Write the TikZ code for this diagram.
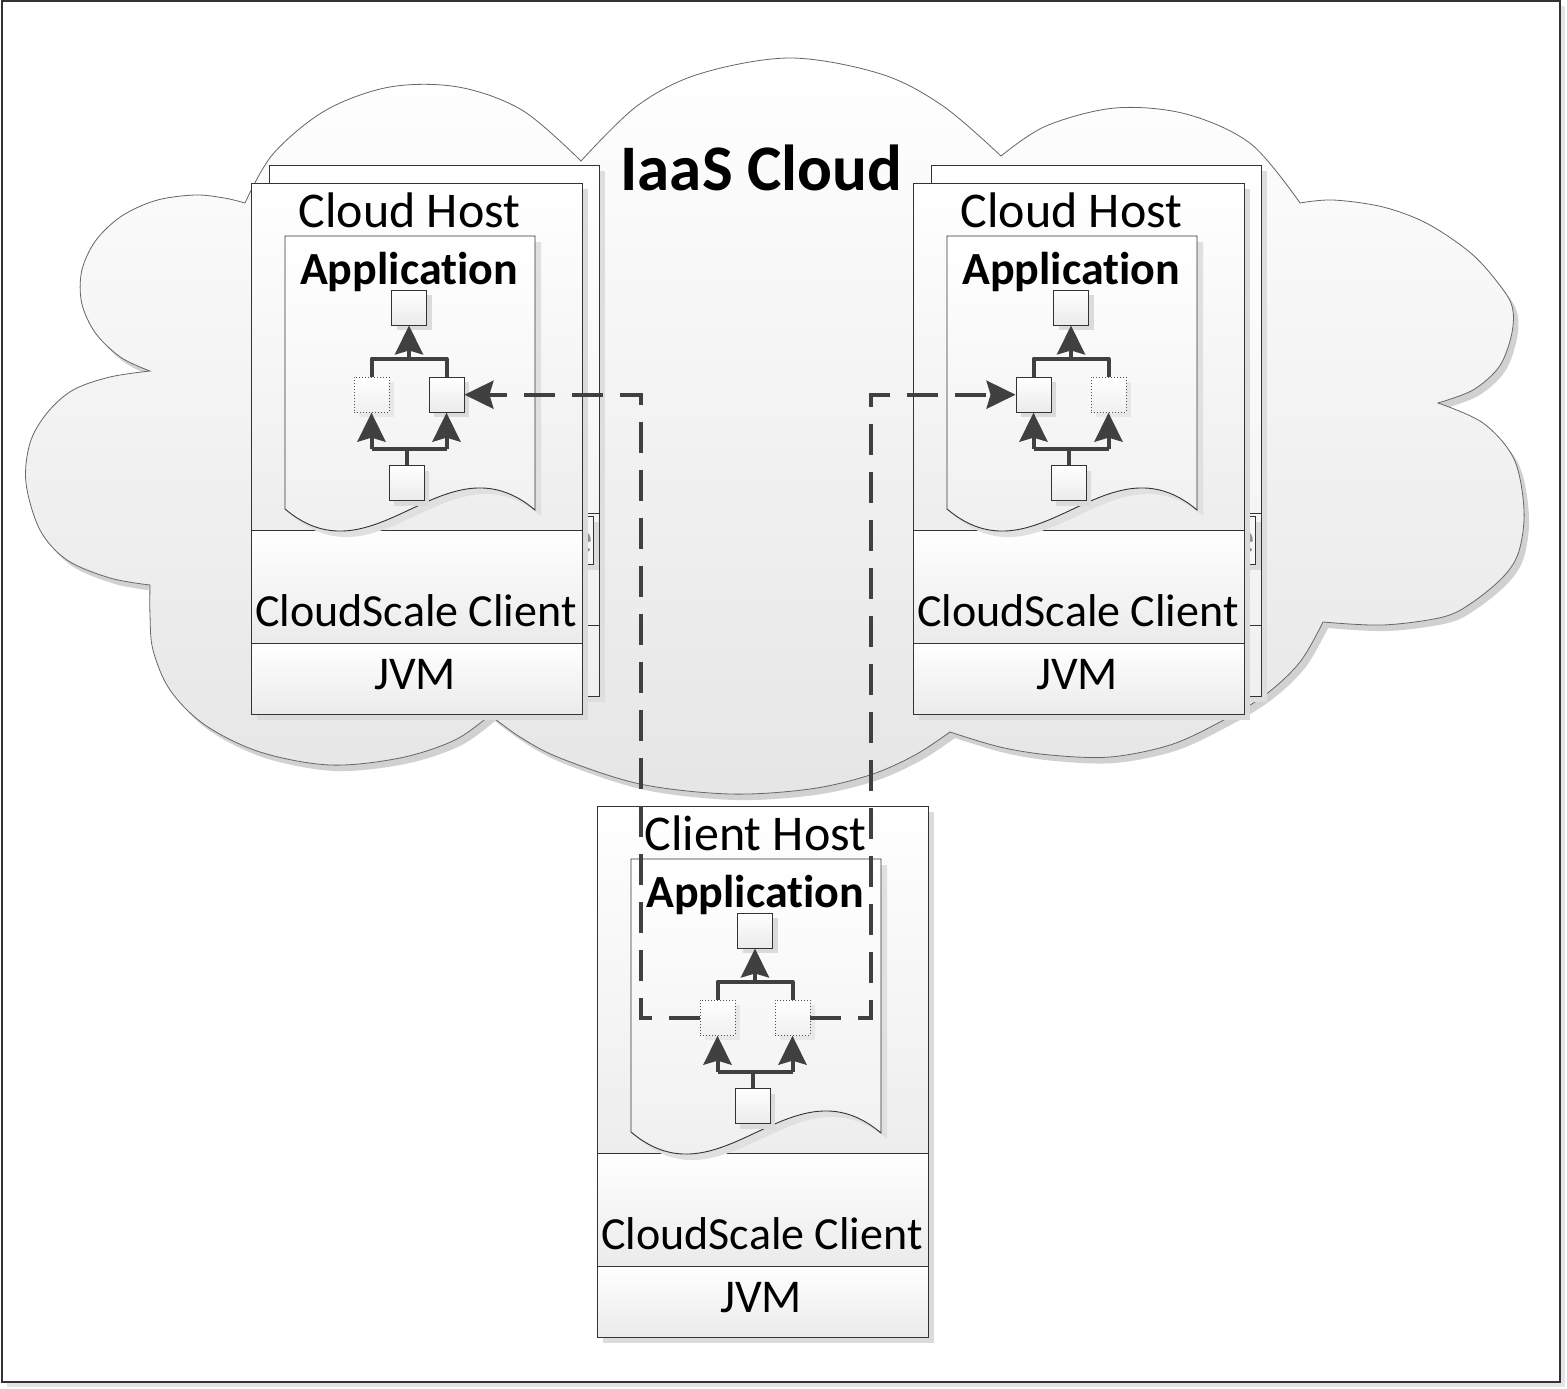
\documentclass[tikz,border=0pt]{standalone}
\usepackage{fontspec}
\setmainfont{Carlito}[Ligatures=NoCommon]
\usetikzlibrary{arrows.meta,shadows,calc}
\definecolor{dg}{HTML}{404040}
\tikzset{
  txt/.style={font=\fontsize{47}{56}\selectfont, inner sep=0pt, anchor=base},
  htxt/.style={font=\fontsize{50}{58}\selectfont, inner sep=0pt, anchor=base},
  ctxt/.style={font=\fontsize{46}{55}\selectfont, inner sep=0pt, anchor=base},
  btxt/.style={font=\bfseries\fontsize{46}{55}\selectfont, inner sep=0pt, anchor=base},
  boxline/.style={draw=black!80, line width=0.9pt},
  sq/.style={draw=black!80, line width=0.9pt, minimum size=35pt, inner sep=0pt,
    top color=white, bottom color=black!8,
    drop shadow={shadow xshift=5pt, shadow yshift=-5pt, fill=black!14, opacity=1}},
  dsq/.style={draw=black!70, line width=0.9pt, dash pattern=on 1pt off 2pt, minimum size=35pt, inner sep=0pt,
    top color=white, bottom color=black!6,
    drop shadow={shadow xshift=5pt, shadow yshift=-5pt, fill=black!9, opacity=1}},
  conn/.style={draw=dg, line width=4pt, line join=round},
  arr/.style={-{Stealth[length=29pt,width=28pt,inset=4pt]}},
  dconn/.style={draw=dg, line width=4pt, dash pattern=on 31pt off 17pt, line join=miter},
  pics/host/.style n args={4}{code={
    \ifnum#1=1
      \fill[black!13] (24,-12) rectangle (354,519);
      \path[top color=white, bottom color=black!6] (18,-18) rectangle (348,513);
      \draw[boxline] (18,-18) rectangle (348,513);
      \draw[boxline] (331,330) -- (348,330);
      \draw[boxline] (331,442.5) -- (348,442.5);
      \fill[black!14] (337,339) rectangle (348,387);
      \fill[black!3] (331,333) rectangle (342.5,381);
      \begin{scope}
        \clip (331,333) rectangle (342.5,381);
        \node[txt, text=black!45] (-ghost) at (330,370) {e};
      \end{scope}
      \draw[boxline] (331,333) rectangle (342.5,381);
    \fi
    \fill[black!14] (6,6) rectangle (337,537);
    \path[top color=white, bottom color=black!7] (0,0) rectangle (331,347.7);
    \path[top color=white, bottom color=black!8] (0,347.7) rectangle (331,460.7);
    \path[top color=white, bottom color=black!8] (0,460.7) rectangle (331,531);
    \draw[boxline] (0,0) rectangle (331,531);
    \draw[boxline] (0,347.7) -- (331,347.7);
    \draw[boxline] (0,460.7) -- (331,460.7);
    \path[boxline, top color=white, bottom color=black!7,
      drop shadow={shadow xshift=6pt, shadow yshift=-6pt, fill=black!12, opacity=1}]
      (34,53) -- (284,53) -- (284,327) .. controls (194,251) and (124,402) .. (34,326) -- cycle;
    \node[htxt] (-title) at (158.5,44.5) {#2};
    \node[btxt] (-app) at (158,101.7) {Application};
    \node[ctxt] (-csc) at (165,443.7) {CloudScale Client};
    \node[txt] (-jvm) at (164,506.7) {JVM};
    \node[#3] (-ls) at (120.5,211.7) {};
    \node[#4] (-rs) at (195.5,211.7) {};
    \node[sq] (-ts) at (158,124.5) {};
    \node[sq] (-bs) at (155.5,300.2) {};
    \coordinate (-ul) at (120.5,175.7);
    \coordinate (-ur) at (195.5,175.7);
    \coordinate (-um) at (158,175.7);
    \coordinate (-ll) at (120.5,266);
    \coordinate (-lr) at (195.5,266);
    \coordinate (-lm) at (155.5,266);
    \draw[conn] (-ls.north) -- (-ul) -- (-ur) -- (-rs.north);
    \draw[conn, arr] (-um) -- (-ts.south);
    \draw[conn] (-ll) -- (-lr);
    \draw[conn, arr] (-ll) -- (-ls.south);
    \draw[conn, arr] (-lr) -- (-rs.south);
    \draw[conn] (-lm) -- (-bs.north);
  }}
}
\begin{document}
\begin{tikzpicture}[x=1pt, y=-1pt]
\useasboundingbox (0,0) rectangle (1567,1389);
\fill[white] (0,0) rectangle (1567,1389);
% frame
\fill[black!10] (6.5,6.5) rectangle (1564.5,1387);
\draw[line width=2pt, draw=black!80, fill=white] (1.5,1.5) rectangle (1559.5,1382);
% cloud
\path[draw=black!60, line width=0.8pt, top color=white, bottom color=black!10,
  drop shadow={shadow xshift=5pt, shadow yshift=-6pt, fill=black!18, opacity=1}]
  plot[smooth, tension=0.55] coordinates {(150,585) (110,578) (67,560) (40,530) (26,483) (30,443) (47,413) (73,390) (110,377) (150,371)}
  -- plot[smooth, tension=0.55] coordinates {(150,371) (121,357.5) (95.4,333) (81.7,303) (81.7,271) (95.4,241) (121,216.5) (155.7,200.5) (195,195) (224.8,198.1) (245,203)}
  -- plot[smooth, tension=0.55] coordinates {(245,203) (273,154) (325.5,110.4) (389.8,87) (458.2,87) (522.5,110.4) (581,161)}
  -- plot[smooth, tension=0.55] coordinates {(581,161) (637,106) (699,74) (790,58) (881,74) (943,106) (1001,156)}
  -- plot[smooth, tension=0.55] coordinates {(1001,156) (1046,126) (1115,108) (1186,114) (1251,144) (1300,203)}
  -- plot[smooth, tension=0.55] coordinates {(1300,203) (1333,200) (1383,207) (1428,224) (1473,255) (1504,291) (1513,311) (1511,337) (1499,367) (1473,390) (1438,403)}
  -- plot[smooth, tension=0.55] coordinates {(1438,403) (1483,423) (1514,459) (1524,510) (1519,551) (1504,576) (1473,602) (1443,617) (1383,625) (1323,622)}
  -- plot[smooth, tension=0.55] coordinates {(1323,622) (1300,662) (1265,695) (1220,722) (1170,745) (1110,757) (1050,755) (1000,747) (950,732)}
  -- plot[smooth, tension=0.55] coordinates {(950,732) (915,755) (870,775) (810,789) (730,794) (640,784) (560,758) (520,737) (490,715)}
  -- plot[smooth, tension=0.55] coordinates {(490,715) (455,740) (400,758) (330,765) (260,752) (205,725) (170,690) (153,650) (150,615) (150,585)}
  -- cycle;
\node[font=\bfseries\fontsize{65}{70}\selectfont, inner sep=0pt, anchor=base] (iaas) at (761.5,190) {IaaS Cloud};
% hosts
\pic (L) at (251,183) {host={1}{Cloud Host}{dsq}{sq}};
\pic (R) at (913,183) {host={1}{Cloud Host}{sq}{dsq}};
\pic (C) at (597,806) {host={0}{Client Host}{dsq}{dsq}};
% dashed connectors
\draw[dconn, arr] (C-ls.west) -- ++(-59,0) |- (L-rs.east);
\draw[dconn, arr] (C-rs.east) -- ++(61,0) |- (R-ls.west);
\end{tikzpicture}
\end{document}
